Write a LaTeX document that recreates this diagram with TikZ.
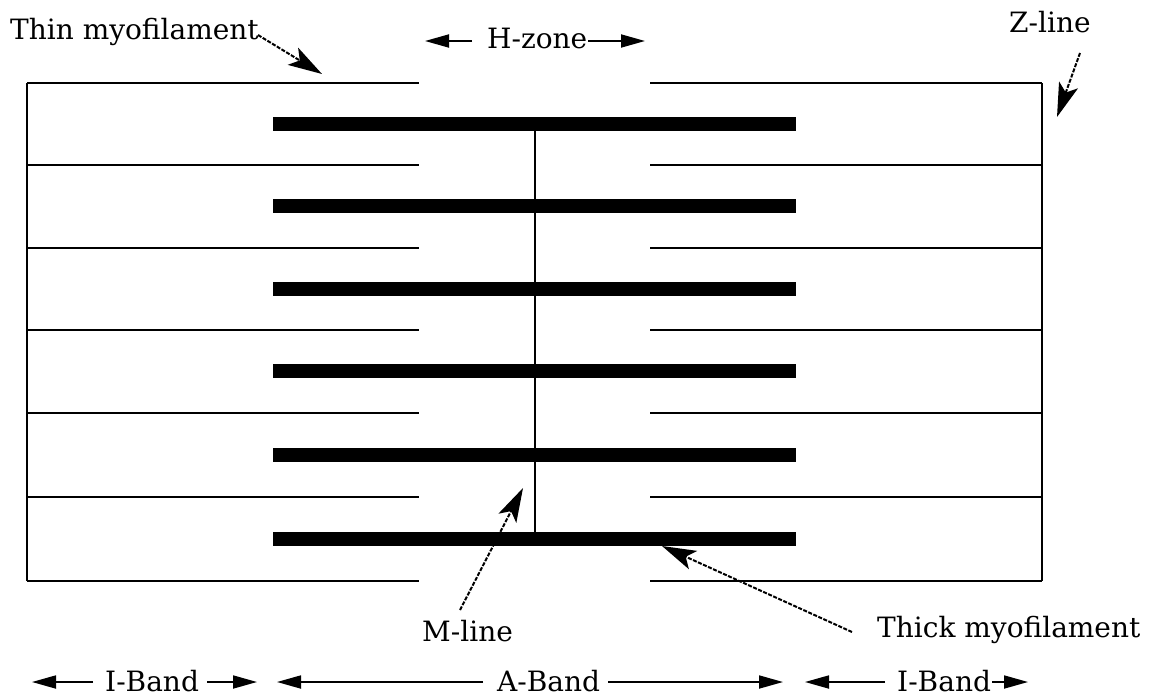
\documentclass[tikz,border=0pt]{standalone}
\usepackage{fontspec}
\setmainfont{DejaVu Serif}
\usetikzlibrary{arrows.meta}
\begin{document}
\begin{tikzpicture}[x=1pt,y=-1pt,
  fil/.style={line width=1.6pt},
  thickbar/.style={line width=14pt},
  callout/.style={line width=2pt, dash pattern=on 4pt off 1.5pt, -{Stealth[length=34pt,width=20pt,inset=8pt]}},
  band/.style={line width=1.8pt, -{Triangle[length=24pt,width=13pt]}},
  lbl/.style={font=\fontsize{28}{32}\selectfont, inner sep=0pt, anchor=base west}]
\useasboundingbox (0,0) rectangle (1155,696);
% filaments
\foreach \y in {83,165,248,330,413,497,581} {
  \draw[fil] (27,\y) -- (419,\y);
  \draw[fil] (650,\y) -- (1042,\y);
}
\draw[fil] (27,83) -- (27,581);
\draw[fil] (1042,83) -- (1042,581);
\foreach \y in {124,206,289,371,455,539} \draw[thickbar] (273,\y) -- (796,\y);
\draw[fil] (535,124) -- (535,539);
% labels
\node[lbl] (thin) at (10,39) {Thin myofilament};
\node[lbl] (hz) at (487,48) {H-zone};
\node[lbl] (zl) at (1009,32) {Z-line};
\node[lbl] (ml) at (422,641) {M-line};
\node[lbl] (tk) at (877,637) {Thick myofilament};
\node[lbl] (ib1) at (105,691) {I-Band};
\node[lbl] (ab) at (497,691) {A-Band};
\node[lbl] (ib2) at (897,691) {I-Band};
% callout coordinates
\coordinate (thinS) at (258,35); \coordinate (thinE) at (322,74);
\coordinate (zlS) at (1080,53); \coordinate (zlE) at (1057,117);
\coordinate (mlS) at (460,610); \coordinate (mlE) at (523,488);
\coordinate (tkS) at (852,632); \coordinate (tkE) at (662,546);
\draw[callout] (thinS) -- (thinE);
\draw[callout] (zlS) -- (zlE);
\draw[callout] (mlS) -- (mlE);
\draw[callout] (tkS) -- (tkE);
% dimension arrows
\coordinate (hzL0) at (472,41); \coordinate (hzL1) at (425,41);
\coordinate (hzR0) at (588,41); \coordinate (hzR1) at (645,41);
\draw[band] (hzL0) -- (hzL1);
\draw[band] (hzR0) -- (hzR1);
\coordinate (a1) at (93,682); \coordinate (a2) at (32,682);
\coordinate (a3) at (207,682); \coordinate (a4) at (257,682);
\coordinate (a5) at (483,682); \coordinate (a6) at (277,682);
\coordinate (a7) at (608,682); \coordinate (a8) at (783,682);
\coordinate (a9) at (885,682); \coordinate (a10) at (805,682);
\coordinate (a11) at (992,682); \coordinate (a12) at (1028,682);
\draw[band] (a1) -- (a2);
\draw[band] (a3) -- (a4);
\draw[band] (a5) -- (a6);
\draw[band] (a7) -- (a8);
\draw[band] (a9) -- (a10);
\draw[band] (a11) -- (a12);
\end{tikzpicture}
\end{document}
